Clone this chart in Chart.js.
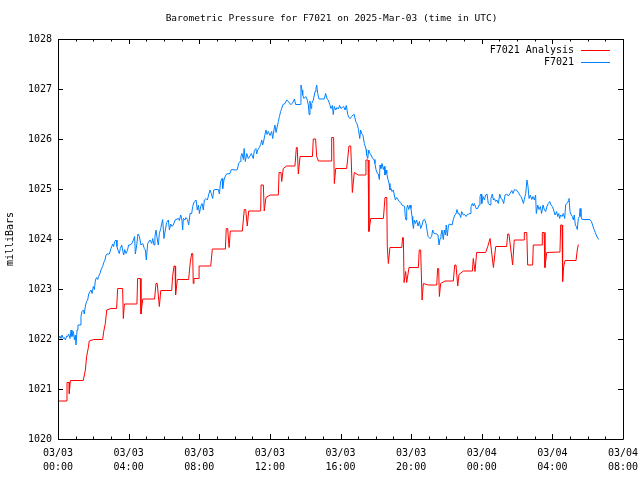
<!DOCTYPE html>
<html>
<head>
<meta charset="utf-8">
<script src="https://cdn.jsdelivr.net/npm/chart.js@4.4.1/dist/chart.umd.min.js"></script>
<style>
  html, body { margin: 0; padding: 0; background: #fff; }
</style>
</head>
<body>
<canvas id="grafico" width="640" height="480"></canvas>
<script>
// horas desde 03/03 00:00 UTC y presion en milibares
const analysisHours = [
  0.04,0.51,0.51,0.64,0.64,0.70,1.43,1.55,1.62,1.72,
  1.77,2.02,2.53,2.59,2.68,2.76,3.00,3.32,3.38,3.66,
  3.70,3.76,4.47,4.51,4.66,4.70,4.80,5.47,5.55,5.62,
  5.74,5.82,6.44,6.49,6.57,6.63,6.66,6.76,7.40,7.48,
  7.57,7.63,7.66,7.70,7.99,7.99,8.65,8.74,9.48,9.53,
  9.61,9.69,9.76,10.44,10.55,10.63,10.72,10.80,11.48,11.50,
  11.63,11.68,11.78,12.01,12.48,12.52,12.63,12.67,12.76,12.95,
  13.42,13.50,13.55,13.61,13.71,14.41,14.46,14.59,14.65,14.75,
  15.50,15.50,15.61,15.65,15.73,16.35,16.48,16.58,16.67,16.78,
  17.01,17.39,17.44,17.56,17.61,17.71,18.43,18.52,18.62,18.65,
  18.71,18.80,19.47,19.52,19.56,19.60,19.69,19.75,19.88,20.41,
  20.46,20.54,20.62,20.69,20.97,21.45,21.50,21.56,21.60,21.67,
  21.92,22.39,22.47,22.54,22.64,22.71,22.96,23.47,23.52,23.62,
  23.71,24.22,24.34,24.47,24.52,24.66,24.79,25.41,25.47,25.54,
  25.75,25.84,26.41,26.41,26.55,26.60,26.88,26.92,27.43,27.43,
  27.53,27.58,27.68,28.43,28.47,28.55,28.58,28.64,28.72,29.34,
  29.41,29.47
];
const analysisValues = [
  1020.76,1020.76,1021.13,1021.13,1020.91,1021.17,1021.17,1021.38,1021.65,1021.83,
  1021.96,1021.99,1021.99,1022.15,1022.31,1022.58,1022.61,1022.61,1023.01,1023.01,
  1022.41,1022.70,1022.70,1023.21,1023.21,1022.50,1022.80,1022.80,1023.11,1023.11,
  1022.65,1022.97,1022.97,1023.25,1023.46,1023.46,1022.88,1023.19,1023.19,1023.50,
  1023.71,1023.71,1023.11,1023.21,1023.21,1023.46,1023.46,1023.80,1023.80,1024.21,
  1024.21,1023.83,1024.16,1024.16,1024.59,1024.59,1024.26,1024.56,1024.56,1025.08,
  1025.08,1024.56,1024.83,1024.88,1024.88,1025.33,1025.33,1025.15,1025.41,1025.46,
  1025.46,1025.83,1025.83,1025.30,1025.65,1025.65,1026.00,1026.00,1025.65,1025.56,
  1025.56,1026.03,1026.03,1025.11,1025.41,1025.41,1025.86,1025.86,1024.93,1025.33,
  1025.28,1025.28,1025.58,1025.58,1024.15,1024.41,1024.41,1024.83,1024.83,1023.85,
  1023.51,1023.83,1023.83,1024.03,1024.03,1023.13,1023.35,1023.13,1023.43,1023.43,
  1023.78,1023.78,1022.78,1023.11,1023.08,1023.08,1023.41,1023.41,1022.85,1023.11,
  1023.16,1023.16,1023.48,1023.48,1023.06,1023.29,1023.36,1023.36,1023.61,1023.35,
  1023.73,1023.73,1023.85,1024.01,1024.01,1023.43,1023.85,1023.85,1024.10,1024.10,
  1023.48,1023.98,1023.98,1024.13,1024.13,1023.48,1023.48,1023.88,1023.88,1024.13,
  1024.13,1023.43,1023.73,1023.74,1024.28,1024.28,1023.15,1023.45,1023.57,1023.57,
  1023.78,1023.89
];

const stationHours = [
  0.04,0.11,0.17,0.23,0.30,0.36,0.42,0.49,0.55,0.60,
  0.68,0.74,0.79,0.87,0.93,0.98,1.02,1.08,1.13,1.25,
  1.30,1.36,1.44,1.49,1.55,1.62,1.68,1.74,1.81,1.87,
  1.93,2.00,2.06,2.12,2.19,2.25,2.30,2.38,2.44,2.53,
  2.59,2.66,2.72,2.78,2.91,3.00,3.10,3.15,3.21,3.29,
  3.34,3.40,3.47,3.53,3.61,3.66,3.72,3.78,3.85,3.93,
  4.00,4.08,4.19,4.27,4.34,4.38,4.46,4.53,4.61,4.70,
  4.80,4.89,4.95,5.00,5.08,
  5.21,5.31,5.36,5.44,5.49,5.55,5.63,5.68,5.74,5.82,
  5.87,5.93,6.00,6.08,6.15,6.25,6.31,6.38,6.46,6.53,
  6.63,6.68,6.82,6.87,6.95,7.02,7.06,7.10,7.19,7.25,
  7.33,7.40,7.48,7.57,7.63,7.72,7.82,7.89,7.95,8.01,
  8.08,8.16,8.23,8.29,8.38,8.46,8.53,8.61,8.68,8.76,
  8.82,8.89,9.08,9.14,9.21,9.29,9.33,9.40,9.48,9.55,
  9.74,9.82,10.08,10.16,10.23,10.31,10.36,10.42,10.50,10.54,
  10.61,10.69,10.78,10.87,10.95,11.06,11.12,11.21,11.25,11.33,
  11.40,
  11.48,11.54,11.59,11.65,11.72,11.78,11.84,11.91,12.01,12.10,
  12.16,12.23,12.29,12.35,12.42,12.48,12.54,12.61,12.67,12.74,
  12.86,12.95,13.05,13.12,13.20,13.27,13.39,13.46,13.73,13.76,
  13.82,13.86,13.93,14.03,14.10,14.18,14.22,14.27,14.33,14.37,
  14.46,14.52,14.56,14.61,14.65,14.71,14.78,15.08,15.16,15.24,
  15.31,15.39,15.46,15.54,15.59,15.65,15.73,15.80,15.88,15.95,
  16.03,16.10,16.18,16.26,16.33,16.41,16.48,16.56,16.63,16.71,
  16.78,16.86,16.93,17.01,17.09,17.14,17.20,17.27,17.35,
  17.45,17.48,17.54,17.60,17.67,17.73,17.82,17.90,17.95,18.01,
  18.09,18.14,18.20,18.24,18.29,18.35,18.43,18.48,18.52,18.58,
  18.62,18.69,18.75,18.80,18.86,18.92,18.99,19.05,19.11,19.18,
  19.26,19.33,19.41,19.48,19.63,19.67,19.71,19.75,19.80,19.86,
  19.94,19.99,20.05,20.09,20.13,20.18,20.24,20.31,20.39,20.47,
  20.54,20.62,20.69,20.77,20.84,20.90,20.96,21.07,21.16,21.22,
  21.30,21.45,21.52,21.58,21.64,21.69,21.75,21.82,21.88,21.94,
  21.99,22.05,22.11,22.16,22.32,22.39,22.47,22.54,22.60,22.67,
  22.73,22.81,22.86,22.96,23.03,23.11,23.18,23.26,23.34,
  23.39,23.47,23.52,23.58,23.68,23.77,23.85,23.90,23.96,24.00,
  24.07,24.15,24.22,24.30,24.37,24.47,24.52,24.60,24.66,24.71,
  24.79,24.86,24.94,25.02,25.09,25.17,25.24,25.32,25.41,25.51,
  25.60,25.70,25.77,25.85,25.92,26.00,26.07,26.15,26.22,26.30,
  26.36,26.41,26.49,26.56,26.62,26.68,26.75,26.83,26.90,26.98,
  27.05,27.09,27.17,27.24,27.32,27.39,27.47,27.55,27.62,27.70,
  27.77,27.85,27.92,28.00,28.07,28.15,
  28.24,28.30,28.36,28.41,28.47,28.55,28.62,28.70,28.75,28.81,
  28.89,28.94,29.00,29.07,29.13,29.19,29.24,29.30,29.36,29.41,
  29.47,29.53,29.57,29.62,29.68,30.13,30.21,30.28,30.36,30.43,
  30.51,30.62
];
const stationValues = [
  1022.01,1022.06,1022.01,1022.08,1022.01,1022.03,1021.98,1022.06,1022.05,1022.10,
  1022.01,1022.18,1022.05,1022.15,1021.98,1022.08,1021.88,1022.18,1022.28,1022.28,
  1022.45,1022.55,1022.58,1022.50,1022.66,1022.75,1022.78,1022.90,1022.95,1022.98,
  1022.91,1023.05,1022.99,1023.18,1023.23,1023.19,1023.25,1023.31,1023.39,1023.45,
  1023.53,1023.58,1023.68,1023.70,1023.70,1023.81,1023.90,1023.85,1023.95,1023.98,
  1023.85,1023.77,1023.71,1023.81,1023.88,1023.78,1023.68,1023.79,1023.71,1023.77,
  1023.88,1023.88,1023.91,1023.98,1024.05,1023.70,1023.88,1024.10,1024.05,1023.88,
  1023.91,1023.81,1023.78,1023.58,1023.91,
  1023.98,1023.91,1024.01,1023.88,1024.05,1024.18,1023.98,1023.88,1024.11,1024.21,
  1024.30,1024.39,1024.01,1024.18,1024.33,1024.38,1024.18,1024.30,1024.25,1024.28,
  1024.38,1024.39,1024.41,1024.37,1024.48,1024.38,1024.18,1024.41,1024.38,1024.43,
  1024.39,1024.28,1024.51,1024.51,1024.65,1024.75,1024.78,1024.58,1024.68,1024.51,
  1024.65,1024.71,1024.58,1024.78,1024.81,1024.78,1024.88,1024.98,1024.91,1024.81,
  1024.98,1024.99,1024.99,1024.90,1025.15,1025.21,1025.01,1025.18,1025.26,1025.30,
  1025.31,1025.39,1025.38,1025.39,1025.51,1025.55,1025.65,1025.71,1025.59,1025.81,
  1025.55,1025.71,1025.61,1025.66,1025.71,1025.61,1025.77,1025.81,1025.70,1025.79,
  1025.83,
  1025.89,1025.98,1025.88,1025.96,1026.09,1026.18,1026.09,1026.15,1026.07,1026.15,
  1026.01,1026.18,1026.28,1026.13,1026.25,1026.35,1026.45,1026.55,1026.61,1026.69,
  1026.71,1026.78,1026.75,1026.71,1026.69,1026.71,1026.80,1026.69,1026.69,1027.08,
  1026.98,1026.88,1026.81,1026.85,1026.80,1026.68,1026.49,1026.76,1026.61,1026.71,
  1026.78,1026.88,1026.95,1027.01,1027.08,1026.91,1026.80,1026.80,1026.91,1026.80,
  1026.78,1026.69,1026.61,1026.67,1026.49,1026.65,1026.58,1026.63,1026.60,1026.67,
  1026.61,1026.63,1026.65,1026.58,1026.67,1026.49,1026.43,1026.41,1026.45,1026.48,
  1026.49,1026.35,1026.31,1026.21,1026.01,1026.18,1026.11,1026.07,1025.91,
  1025.79,1025.68,1025.61,1025.78,1025.71,1025.68,1025.61,1025.59,1025.51,1025.39,
  1025.31,1025.30,1025.19,1025.48,1025.41,1025.51,1025.39,1025.45,1025.28,1025.38,
  1025.31,1025.19,1025.11,1024.98,1025.01,1024.95,1024.98,1024.88,1024.78,1024.83,
  1024.79,1024.75,1024.73,1024.68,1024.65,1024.45,1024.38,1024.61,1024.68,1024.59,
  1024.68,1024.61,1024.45,1024.31,1024.21,1024.38,1024.31,1024.38,1024.26,1024.35,
  1024.21,1024.28,1024.38,1024.39,1024.31,1024.18,1024.05,1024.01,1024.05,1024.18,
  1024.11,1024.10,1024.08,1023.88,1024.01,1024.08,1024.18,1023.99,1024.18,1024.08,
  1024.28,1024.06,1024.26,1024.30,1024.28,1024.39,1024.48,1024.50,1024.59,1024.50,
  1024.51,1024.43,1024.55,1024.48,1024.49,1024.45,1024.49,1024.50,1024.51,
  1024.65,1024.71,1024.66,1024.71,1024.61,1024.61,1024.68,1024.85,1024.90,1024.71,
  1024.85,1024.78,1024.88,1024.90,1024.71,1024.68,1024.81,1024.90,1024.78,1024.81,
  1024.75,1024.78,1024.71,1024.90,1024.81,1024.79,1024.71,1024.88,1024.90,1024.86,
  1024.91,1024.97,1024.91,1024.99,1024.98,1024.97,1024.93,1024.88,1024.85,1024.78,
  1024.71,1024.79,1024.91,1025.18,1025.05,1024.81,1024.88,1024.79,1024.85,1024.78,
  1024.88,1024.51,1024.68,1024.59,1024.65,1024.51,1024.68,1024.58,1024.55,1024.66,
  1024.71,1024.75,1024.68,1024.65,1024.58,1024.48,
  1024.55,1024.45,1024.51,1024.41,1024.48,1024.45,1024.51,1024.41,1024.68,1024.71,
  1024.75,1024.81,1024.55,1024.48,1024.45,1024.38,1024.48,1024.28,1024.25,1024.19,
  1024.41,1024.45,1024.61,1024.45,1024.39,1024.39,1024.35,1024.28,1024.19,1024.13,
  1024.06,1023.99
];

const xTickLabels = [
  ['03/03', '00:00'], ['03/03', '04:00'], ['03/03', '08:00'],
  ['03/03', '12:00'], ['03/03', '16:00'], ['03/03', '20:00'],
  ['03/04', '00:00'], ['03/04', '04:00'], ['03/04', '08:00']
];
const seriesNames = ['F7021 Analysis', 'F7021'];
const seriesColors = ['#ff0000', '#0080ff'];
const chartTitle = 'Barometric Pressure for F7021 on 2025-Mar-03 (time in UTC)';

const FUENTE = 'DejaVu Sans Mono';

function puntos(horas, valores) {
  var res = [];
  for (var i = 0; i < horas.length; i++) {
    res.push({ x: horas[i], y: valores[i] });
  }
  return res;
}

// marco, marcas de escala hacia dentro, titulo y leyenda al estilo gnuplot
const marcoGnuplot = {
  id: 'marcoGnuplot',
  afterDraw(chart) {
    const ctx = chart.ctx;
    const a = chart.chartArea;
    const x = chart.scales.x;
    const y = chart.scales.y;
    ctx.save();
    ctx.strokeStyle = '#000';
    ctx.lineWidth = 1;
    ctx.beginPath();
    ctx.rect(Math.round(a.left) + 0.5, Math.round(a.top) + 0.5,
             Math.round(a.right - a.left), Math.round(a.bottom - a.top));
    for (let h = x.min; h <= x.max; h++) {
      const px = Math.round(x.getPixelForValue(h)) + 0.5;
      const len = (h % 4 === 0) ? 5 : 2.5;
      ctx.moveTo(px, a.bottom); ctx.lineTo(px, a.bottom - len);
      ctx.moveTo(px, a.top); ctx.lineTo(px, a.top + len);
    }
    for (let v = y.min; v <= y.max; v++) {
      const py = Math.round(y.getPixelForValue(v)) + 0.5;
      ctx.moveTo(a.left, py); ctx.lineTo(a.left + 5, py);
      ctx.moveTo(a.right, py); ctx.lineTo(a.right - 5, py);
    }
    ctx.stroke();

    ctx.fillStyle = '#000';
    ctx.textBaseline = 'middle';
    ctx.font = '9.5px "' + FUENTE + '"';
    ctx.textAlign = 'center';
    ctx.fillText(chartTitle, 331.5, 19);

    ctx.font = '10px "' + FUENTE + '"';
    ctx.textAlign = 'right';
    chart.data.datasets.forEach(function (ds, i) {
      const ly = 50 + i * 12;
      ctx.fillStyle = '#000';
      ctx.fillText(ds.label, 574, ly);
      ctx.strokeStyle = ds.borderColor;
      ctx.beginPath();
      ctx.moveTo(581, Math.round(ly) + 0.5);
      ctx.lineTo(610, Math.round(ly) + 0.5);
      ctx.stroke();
    });
    ctx.restore();
  }
};

new Chart(document.getElementById('grafico'), {
  type: 'line',
  data: {
    datasets: [
      {
        label: seriesNames[0],
        data: puntos(analysisHours, analysisValues),
        borderColor: seriesColors[0],
        borderWidth: 1,
        pointRadius: 0,
        tension: 0,
        fill: false
      },
      {
        label: seriesNames[1],
        data: puntos(stationHours, stationValues),
        borderColor: seriesColors[1],
        borderWidth: 1,
        pointRadius: 0,
        tension: 0,
        fill: false
      }
    ]
  },
  options: {
    responsive: false,
    animation: false,
    devicePixelRatio: 1,
    layout: { padding: { top: 39, right: 17, left: 0, bottom: 0 } },
    scales: {
      x: {
        type: 'linear',
        min: 0,
        max: 32,
        grid: { display: false, drawTicks: false },
        border: { display: false },
        afterFit: function (scale) {
          scale.height = 41;
          scale.paddingLeft = 0;
          scale.paddingRight = 0;
        },
        ticks: {
          stepSize: 4,
          padding: 7,
          maxRotation: 0,
          autoSkip: false,
          color: '#000',
          font: { family: FUENTE, size: 10, lineHeight: 1.4 },
          callback: function (value) { return xTickLabels[Math.round(value / 4)]; }
        }
      },
      y: {
        min: 1020,
        max: 1028,
        grid: { display: false, drawTicks: false },
        border: { display: false },
        afterFit: function (scale) {
          scale.width = 58;
          scale.paddingTop = 0;
          scale.paddingBottom = 0;
        },
        title: {
          display: true,
          text: 'milliBars',
          color: '#000',
          font: { family: FUENTE, size: 10, lineHeight: 1.2 },
          padding: { top: 4, bottom: 0 }
        },
        ticks: {
          stepSize: 1,
          padding: 6,
          color: '#000',
          font: { family: FUENTE, size: 10 },
          callback: function (value) { return String(value); }
        }
      }
    },
    plugins: {
      legend: { display: false },
      tooltip: { enabled: false },
      title: { display: false }
    }
  },
  plugins: [marcoGnuplot]
});
</script>
</body>
</html>
